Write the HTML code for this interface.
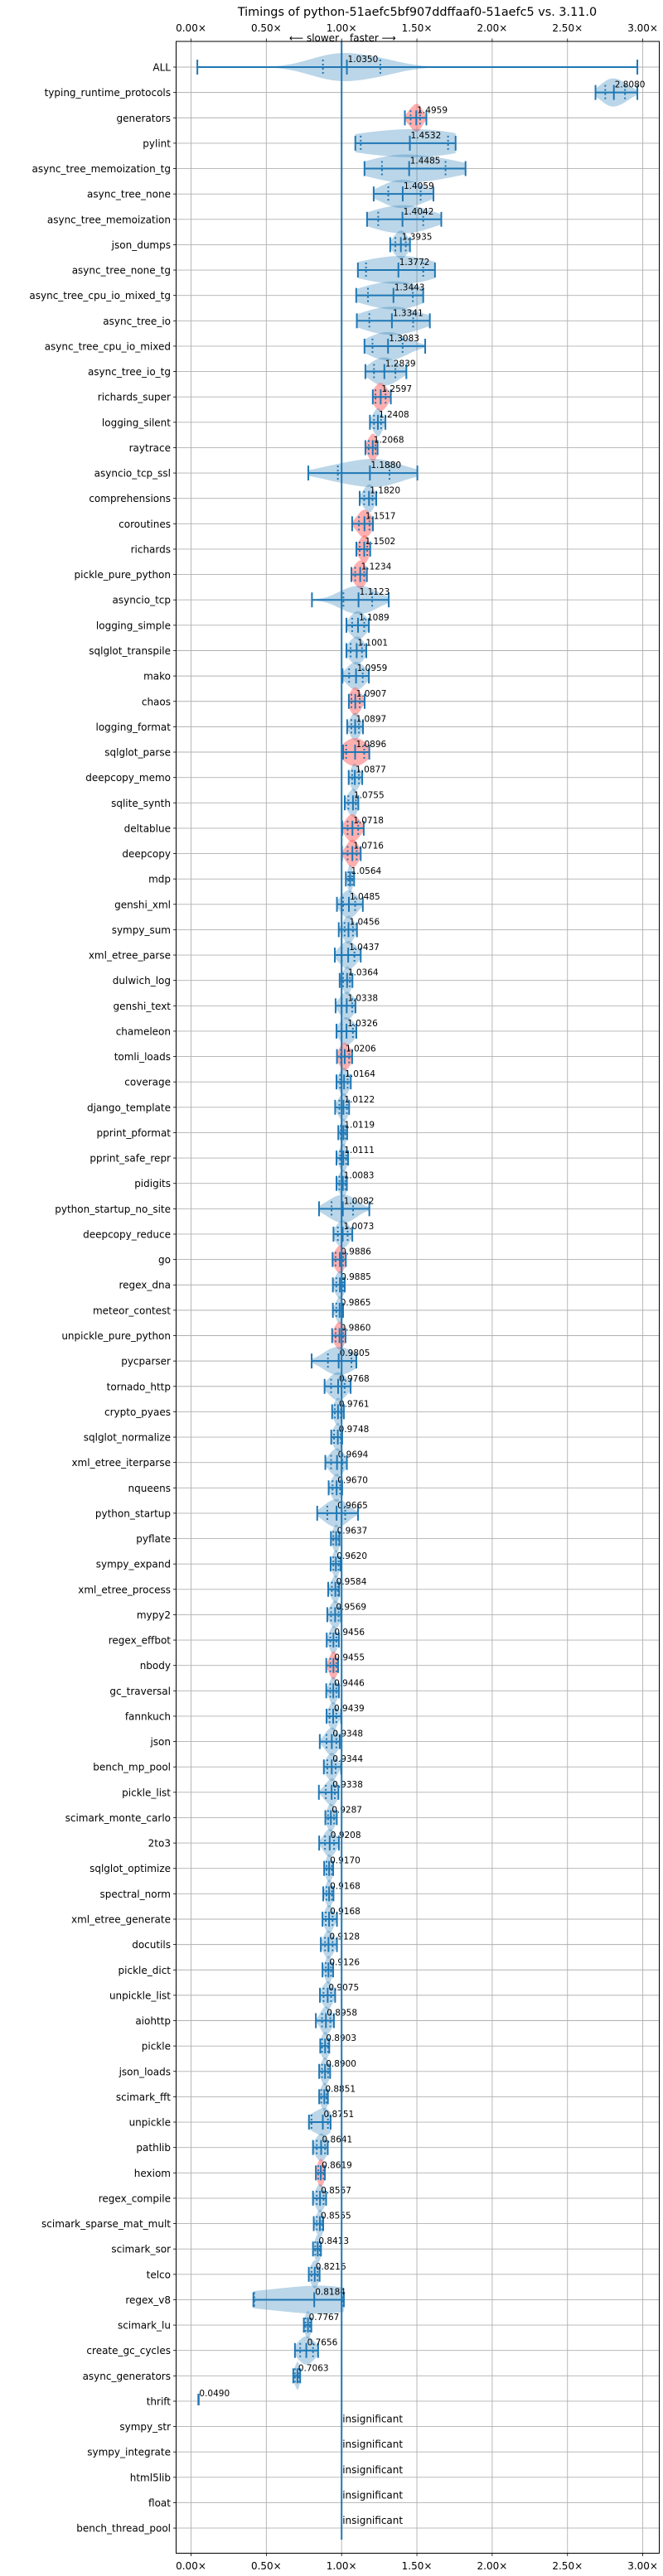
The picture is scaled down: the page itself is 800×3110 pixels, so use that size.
<!DOCTYPE html>
<html><head><meta charset="utf-8">
<style>
html,body{margin:0;padding:0;background:#fff;}
svg{display:block;font-family:"DejaVu Sans","Liberation Sans",sans-serif;}
</style></head>
<body>
<svg id="chart" width="800" height="3110" viewBox="0 0 800 3110" xmlns="http://www.w3.org/2000/svg"></svg>
<script>
const names=["ALL","typing_runtime_protocols","generators","pylint","async_tree_memoization_tg","async_tree_none","async_tree_memoization","json_dumps","async_tree_none_tg","async_tree_cpu_io_mixed_tg","async_tree_io","async_tree_cpu_io_mixed","async_tree_io_tg","richards_super","logging_silent","raytrace","asyncio_tcp_ssl","comprehensions","coroutines","richards","pickle_pure_python","asyncio_tcp","logging_simple","sqlglot_transpile","mako","chaos","logging_format","sqlglot_parse","deepcopy_memo","sqlite_synth","deltablue","deepcopy","mdp","genshi_xml","sympy_sum","xml_etree_parse","dulwich_log","genshi_text","chameleon","tomli_loads","coverage","django_template","pprint_pformat","pprint_safe_repr","pidigits","python_startup_no_site","deepcopy_reduce","go","regex_dna","meteor_contest","unpickle_pure_python","pycparser","tornado_http","crypto_pyaes","sqlglot_normalize","xml_etree_iterparse","nqueens","python_startup","pyflate","sympy_expand","xml_etree_process","mypy2","regex_effbot","nbody","gc_traversal","fannkuch","json","bench_mp_pool","pickle_list","scimark_monte_carlo","2to3","sqlglot_optimize","spectral_norm","xml_etree_generate","docutils","pickle_dict","unpickle_list","aiohttp","pickle","json_loads","scimark_fft","unpickle","pathlib","hexiom","regex_compile","scimark_sparse_mat_mult","scimark_sor","telco","regex_v8","scimark_lu","create_gc_cycles","async_generators","thrift","sympy_str","sympy_integrate","html5lib","float","bench_thread_pool"];
const medians=[1.0350,2.8080,1.4959,1.4532,1.4485,1.4059,1.4042,1.3935,1.3772,1.3443,1.3341,1.3083,1.2839,1.2597,1.2408,1.2068,1.1880,1.1820,1.1517,1.1502,1.1234,1.1123,1.1089,1.1001,1.0959,1.0907,1.0897,1.0896,1.0877,1.0755,1.0718,1.0716,1.0564,1.0485,1.0456,1.0437,1.0364,1.0338,1.0326,1.0206,1.0164,1.0122,1.0119,1.0111,1.0083,1.0082,1.0073,0.9886,0.9885,0.9865,0.9860,0.9805,0.9768,0.9761,0.9748,0.9694,0.9670,0.9665,0.9637,0.9620,0.9584,0.9569,0.9456,0.9455,0.9446,0.9439,0.9348,0.9344,0.9338,0.9287,0.9208,0.9170,0.9168,0.9168,0.9128,0.9126,0.9075,0.8958,0.8903,0.8900,0.8851,0.8751,0.8641,0.8619,0.8567,0.8555,0.8413,0.8216,0.8184,0.7767,0.7656,0.7063,0.0490];
const mins=[0.042,2.686,1.420,1.091,1.152,1.213,1.169,1.323,1.108,1.097,1.101,1.152,1.158,1.207,1.188,1.158,0.779,1.120,1.070,1.098,1.065,0.803,1.032,1.032,1.006,1.048,1.037,1.010,1.047,1.021,1.004,1.002,1.028,0.969,0.981,0.955,0.987,0.960,0.966,0.969,0.966,0.957,0.978,0.966,0.966,0.850,0.946,0.940,0.942,0.942,0.937,0.801,0.887,0.937,0.931,0.892,0.914,0.838,0.929,0.927,0.911,0.905,0.901,0.898,0.898,0.900,0.855,0.882,0.849,0.892,0.851,0.884,0.878,0.873,0.862,0.873,0.856,0.829,0.858,0.851,0.851,0.783,0.810,0.829,0.810,0.815,0.810,0.782,0.414,0.749,0.690,0.679,0.043];
const maxs=[2.964,2.964,1.563,1.757,1.823,1.610,1.662,1.454,1.620,1.542,1.586,1.555,1.430,1.327,1.291,1.239,1.503,1.230,1.208,1.190,1.168,1.313,1.181,1.164,1.181,1.153,1.142,1.184,1.137,1.111,1.147,1.127,1.083,1.141,1.102,1.127,1.072,1.092,1.098,1.070,1.061,1.050,1.037,1.043,1.035,1.184,1.071,1.028,1.021,1.010,1.026,1.098,1.060,1.015,1.004,1.035,1.004,1.109,0.986,0.993,0.984,0.997,0.982,0.977,0.982,0.997,0.988,0.997,0.979,0.968,0.982,0.944,0.946,0.969,0.969,0.944,0.957,0.949,0.918,0.924,0.909,0.927,0.908,0.889,0.897,0.878,0.863,0.854,1.015,0.799,0.844,0.725,0.055];
const q1s=[0.876,2.751,1.458,1.127,1.268,1.310,1.243,1.357,1.162,1.175,1.184,1.205,1.215,1.225,1.215,1.180,0.975,1.150,1.115,1.120,1.090,1.012,1.070,1.060,1.050,1.065,1.065,1.030,1.070,1.045,1.040,1.040,1.045,1.010,1.020,1.000,1.010,1.000,1.000,0.995,0.990,0.985,0.995,0.990,0.985,0.933,0.975,0.960,0.965,0.965,0.960,0.909,0.930,0.955,0.950,0.930,0.940,0.905,0.945,0.945,0.935,0.930,0.925,0.925,0.925,0.920,0.900,0.905,0.895,0.910,0.890,0.900,0.900,0.895,0.890,0.895,0.880,0.870,0.870,0.870,0.865,0.800,0.835,0.845,0.835,0.835,0.825,0.800,0.420,0.760,0.725,0.690,0.046];
const q3s=[1.257,2.882,1.521,1.707,1.690,1.525,1.542,1.426,1.542,1.473,1.475,1.405,1.357,1.292,1.262,1.225,1.318,1.205,1.185,1.170,1.150,1.203,1.150,1.135,1.140,1.120,1.115,1.150,1.115,1.095,1.110,1.100,1.070,1.090,1.075,1.085,1.055,1.070,1.075,1.050,1.040,1.035,1.025,1.030,1.025,1.076,1.040,1.010,1.010,1.000,1.010,1.065,1.020,0.995,0.995,1.005,0.990,1.024,0.980,0.980,0.975,0.980,0.965,0.965,0.965,0.965,0.965,0.960,0.955,0.950,0.950,0.935,0.935,0.940,0.940,0.930,0.930,0.925,0.910,0.910,0.900,0.909,0.890,0.880,0.880,0.870,0.855,0.840,1.005,0.790,0.810,0.715,0.052];
const slowerFlags=[0,0,1,0,0,0,0,0,0,0,0,0,0,1,0,1,0,0,1,1,1,0,0,0,0,1,0,1,0,0,1,1,0,0,0,0,0,0,0,1,0,0,0,0,0,0,0,1,0,0,1,0,0,0,0,0,0,0,0,0,0,0,0,1,0,0,0,0,0,0,0,0,0,0,0,0,0,0,0,0,0,0,0,1,0,0,0,0,0,0,0,0,0];
const xTicks=[0,0.5,1,1.5,2,2.5,3];
const xTickLabels=["0.00×","0.50×","1.00×","1.50×","2.00×","2.50×","3.00×"];

const NS="http://www.w3.org/2000/svg";
const svg=document.getElementById('chart');
const AX_L=212.5, AX_R=795.5, AX_T=50, AX_B=3082.5;
const ROW0=81, ROWH=30.63;
function xs(v){return 230.5+181.7*v;}
function ys(i){return ROW0+ROWH*i;}
function mk(tag,attrs,parent){const e=document.createElementNS(NS,tag);for(const k in attrs)e.setAttribute(k,attrs[k]);(parent||svg).appendChild(e);return e;}

let t=mk('text',{x:503.5,y:19,'text-anchor':'middle','font-size':'14.4',fill:'#000'});
t.textContent="Timings of python-51aefc5bf907ddffaaf0-51aefc5 vs. 3.11.0";



const grid=mk('g',{});


xTicks.forEach(v=>{mk('line',{x1:xs(v),x2:xs(v),y1:AX_T,y2:AX_B,stroke:'#b0b0b0','stroke-width':0.9},grid);});
names.forEach((n,i)=>{mk('line',{x1:AX_L,x2:AX_R,y1:ys(i),y2:ys(i),stroke:'#b0b0b0','stroke-width':0.9},grid);});

xTicks.forEach((v,i)=>{
  const a=mk('text',{x:xs(v),y:38,'text-anchor':'middle','font-size':'12',fill:'#000'});
  a.textContent=xTickLabels[i];
  
  
  const b=mk('text',{x:xs(v),y:3102,'text-anchor':'middle','font-size':'12',fill:'#000'});
  b.textContent=xTickLabels[i];
  
  
  mk('line',{x1:xs(v),x2:xs(v),y1:AX_T,y2:AX_T-3.5,stroke:'#000','stroke-width':0.8});
  mk('line',{x1:xs(v),x2:xs(v),y1:AX_B,y2:AX_B+3.5,stroke:'#000','stroke-width':0.8});
});
let sl=mk('text',{x:409,y:50,'text-anchor':'end','font-size':'12',fill:'#000'});
sl.textContent="⟵ slower";


let fa=mk('text',{x:422,y:50,'text-anchor':'start','font-size':'12',fill:'#000'});
fa.textContent="faster ⟶";



names.forEach((n,i)=>{
  const l=mk('text',{x:206,y:ys(i)+4.5,'text-anchor':'end','font-size':'12',fill:'#000'});
  l.textContent=n;
  
  
  mk('line',{x1:AX_L,x2:AX_L-3.5,y1:ys(i),y2:ys(i),stroke:'#000','stroke-width':0.8});
});

const BLUE='#1f77b4';
medians.forEach((m,i)=>{
  const g=mk('g',{});
  
  
  const y=ys(i), lo=mins[i], hi=maxs[i], a=q1s[i], b=q3s[i];
  const fill=slowerFlags[i]?'rgba(255,110,110,0.55)':'rgba(31,119,180,0.3)';
  if(i<92){
    const sig=Math.max((b-a)/2.4,0.004);
    const centers=[lo,a,m,b,hi], wts=[0.06,0.9,1.2,0.9,0.06];
    const N=120, pts=[]; let mx=0;
    for(let k=0;k<=N;k++){const v=lo+(hi-lo)*k/N;let d=0;centers.forEach((c,j)=>{d+=wts[j]*Math.exp(-0.5*((v-c)/sig)**2);});pts.push([v,d]);if(d>mx)mx=d;}
    const H=17;
    let path='M'+xs(pts[0][0])+','+y;
    pts.forEach(p=>{path+=' L'+xs(p[0]).toFixed(2)+','+(y-p[1]/mx*H).toFixed(2);});
    for(let k=pts.length-1;k>=0;k--){path+=' L'+xs(pts[k][0]).toFixed(2)+','+(y+pts[k][1]/mx*H).toFixed(2);}
    path+='Z';
    mk('path',{d:path,fill:fill,stroke:'none'},g);
    mk('line',{x1:xs(lo),x2:xs(hi),y1:y,y2:y,stroke:BLUE,'stroke-width':2},g);
    [lo,hi,m].forEach(v=>mk('line',{x1:xs(v),x2:xs(v),y1:y-9,y2:y+9,stroke:BLUE,'stroke-width':2},g));
    [a,b].forEach(v=>mk('line',{x1:xs(v),x2:xs(v),y1:y-9,y2:y+9,stroke:BLUE,'stroke-width':2,'stroke-dasharray':'2,3'},g));
  } else {
    mk('rect',{x:xs(lo),y:y-9,width:Math.max(xs(hi)-xs(lo),2.5),height:14,fill:BLUE},g);
  }
  const lab=mk('text',{x:xs(m)+1,y:y-6,'font-size':'10.5',fill:'#000'},g);
  lab.textContent=m.toFixed(4);
  
  
});
for(let i=medians.length;i<names.length;i++){
  const s=mk('text',{x:xs(1)+1,y:ys(i)-5,'font-size':'12',fill:'#000'});
  s.textContent="insignificant";
  
  
}

const ref=mk('line',{x1:xs(1),x2:xs(1),y1:AX_T,y2:ys(names.length-1)+14,stroke:BLUE,'stroke-width':2});



const fr=mk('rect',{x:AX_L,y:AX_T,width:AX_R-AX_L,height:AX_B-AX_T,fill:'none',stroke:'#000','stroke-width':1});


</script>
</body></html>
